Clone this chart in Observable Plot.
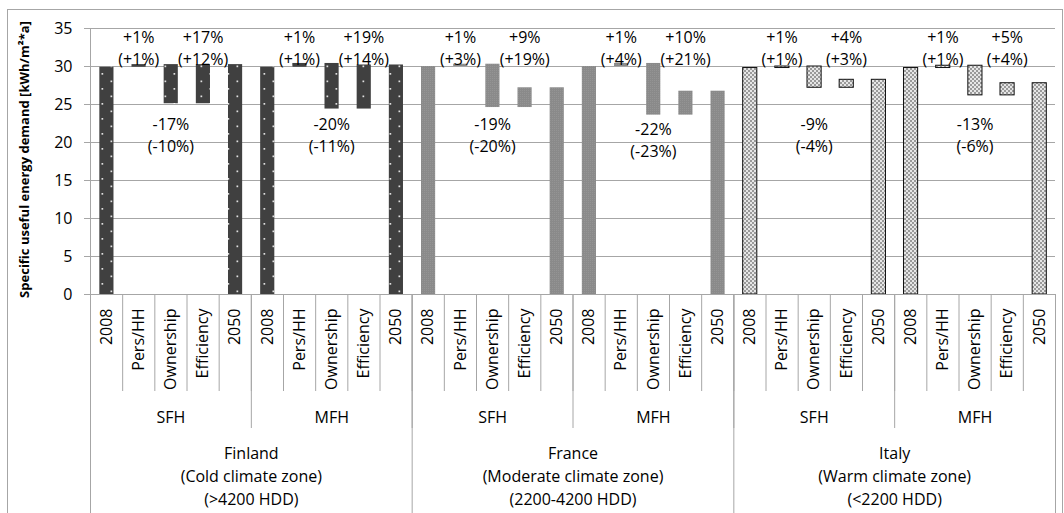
<!DOCTYPE html>
<html>
<head>
<meta charset="utf-8">
<script src="https://cdn.jsdelivr.net/npm/d3@7"></script>
<script src="https://cdn.jsdelivr.net/npm/@observablehq/plot@0.6"></script>
<style>
  body { margin: 0; background: #fff; font-family: "Open Sans", sans-serif; }
  #frame { position: absolute; left: 7px; top: 9px; width: 1054px; height: 520px; border: 1px solid #a6a6a6; box-sizing: content-box; }
  #frame svg { position: absolute; left: 0; }
</style>
</head>
<body>
<div id="frame"></div>
<script>
// ---- data ----
const countries = ["Finland", "France", "Italy"];
const countryLabels = [
  "Finland\n(Cold climate zone)\n(>4200 HDD)",
  "France\n(Moderate climate zone)\n(2200-4200 HDD)",
  "Italy\n(Warm climate zone)\n(<2200 HDD)"
];
const buildings = ["SFH", "MFH"];
const steps = ["2008", "Pers/HH", "Ownership", "Efficiency", "2050"];
const yTicks = [0, 5, 10, 15, 20, 25, 30, 35];

// demand level [kWh/m²a] in 2008, after Pers/HH, after Ownership, after Efficiency (= 2050)
const finlandSFH = [29.9, 30.25, 25.1, 30.25];
const finlandMFH = [29.9, 30.4, 24.4, 30.2];
const franceSFH  = [30.0, 30.3, 24.6, 27.2];
const franceMFH  = [30.0, 30.4, 23.6, 26.75];
const italySFH   = [29.8, 30.0, 27.2, 28.25];
const italyMFH   = [29.8, 30.1, 26.2, 27.8];
const groupLevels = [finlandSFH, finlandMFH, franceSFH, franceMFH, italySFH, italyMFH];

const persLabels = ["+1%\n(+1%)", "+1%\n(+1%)", "+1%\n(+3%)", "+1%\n(+4%)", "+1%\n(+1%)", "+1%\n(+1%)"];
const ownLabels  = ["-17%\n(-10%)", "-20%\n(-11%)", "-19%\n(-20%)", "-22%\n(-23%)", "-9%\n(-4%)", "-13%\n(-6%)"];
const effLabels  = ["+17%\n(+12%)", "+19%\n(+14%)", "+9%\n(+19%)", "+10%\n(+21%)", "+4%\n(+3%)", "+5%\n(+4%)"];

const yTitle = "Specific useful energy demand [kWh/m²*a]";

// ---- derived tables ----
const bars = [];
const labels = [];
groupLevels.forEach((v, g) => {
  const country = countries[Math.floor(g / buildings.length)];
  const building = buildings[g % buildings.length];
  const spans = [[0, v[0]], [v[0], v[1]], [v[1], v[2]], [v[2], v[3]], [0, v[3]]];
  steps.forEach((s, k) => {
    const i = g * steps.length + k;
    bars.push({i, country, building, step: s, y1: spans[k][0], y2: spans[k][1]});
  });
  labels.push({i: g * steps.length + 1, text: persLabels[g], kind: "up"});
  labels.push({i: g * steps.length + 3, text: effLabels[g], kind: "up"});
  labels.push({i: g * steps.length + 2, text: ownLabels[g], kind: "down", bottom: v[2]});
});
const nCat = bars.length;
const nPerCountry = buildings.length * steps.length;
const catLabels = bars.map(b => ({i: b.i, text: b.step}));
const bldLabels = groupLevels.map((v, g) => ({g, text: buildings[g % buildings.length]}));
const ctyLabels = countries.map((c, k) => ({k, text: countryLabels[k]}));
const boundaries = d3.range(nCat + 1);

// layout of the category-axis rows (pixels below the x axis line)
const ROW_CAT = 97, ROW_BLD = 134, ROW_CTY = 240;

const GRID = "#a6a6a6";
const W = 1054;
const common = {
  width: W,
  marginLeft: 82,
  marginRight: 7,
  style: {background: "transparent", overflow: "visible", fontFamily: "'Open Sans', sans-serif", fontSize: "16px", color: "#000"}
};

// ---- main chart ----
const chart = Plot.plot({
  ...common,
  height: 284,
  marginTop: 18,
  marginBottom: 0,
  x: {domain: [0, nCat], axis: null},
  y: {domain: [0, 35], ticks: yTicks.length - 1, tickSize: 6, tickPadding: 12, label: null, tickFormat: d => String(d)},
  marks: [
    Plot.ruleY(yTicks.filter(t => t > 0), {stroke: GRID, strokeWidth: 1}),
    Plot.ruleX([0], {stroke: GRID}),
    Plot.rectY(bars.filter(b => b.country === "Finland"), {
      x1: d => d.i + 0.29, x2: d => d.i + 0.73, y1: "y1", y2: "y2", fill: "url(#patFI)"
    }),
    Plot.rectY(bars.filter(b => b.country === "France"), {
      x1: d => d.i + 0.29, x2: d => d.i + 0.73, y1: "y1", y2: "y2", fill: "url(#patFR)"
    }),
    Plot.rectY(bars.filter(b => b.country === "Italy"), {
      x1: d => d.i + 0.29, x2: d => d.i + 0.73, y1: "y1", y2: "y2", fill: "url(#patIT)", stroke: "#111", strokeWidth: 1
    }),
    Plot.ruleY([0], {stroke: GRID}),
    Plot.text(labels.filter(d => d.kind === "up"), {
      x: d => d.i + 0.5, y: 32.55, text: "text", lineAnchor: "middle", lineHeight: 1.36, fill: "#000"
    }),
    Plot.text(labels.filter(d => d.kind === "down"), {
      x: d => d.i + 0.5, y: d => Math.min(d.bottom - 3.16, 21.1), text: "text", lineAnchor: "middle", lineHeight: 1.36, fill: "#000"
    }),
    Plot.text([yTitle], {
      frameAnchor: "left", textAnchor: "middle", lineAnchor: "middle", rotate: -90, dx: -66, dy: -2, fontWeight: "bold", fontSize: 13, fill: "#000"
    })
  ]
});

// patterns
const defs = d3.select(chart).insert("defs", ":first-child");
const pFI = defs.append("pattern").attr("id", "patFI").attr("patternUnits", "userSpaceOnUse").attr("width", 18).attr("height", 15);
pFI.append("rect").attr("width", 18).attr("height", 15).attr("fill", "#404040");
pFI.append("rect").attr("x", 3.5).attr("y", 3).attr("width", 1.7).attr("height", 1.7).attr("fill", "#e0e0e0");
pFI.append("rect").attr("x", 12.5).attr("y", 10.5).attr("width", 1.7).attr("height", 1.7).attr("fill", "#e0e0e0");
const pFR = defs.append("pattern").attr("id", "patFR").attr("patternUnits", "userSpaceOnUse").attr("width", 2).attr("height", 2);
pFR.append("rect").attr("width", 2).attr("height", 2).attr("fill", "#8a8a8a");
pFR.append("rect").attr("width", 1).attr("height", 1).attr("fill", "#949494");
const pIT = defs.append("pattern").attr("id", "patIT").attr("patternUnits", "userSpaceOnUse").attr("width", 4).attr("height", 4);
pIT.append("rect").attr("width", 4).attr("height", 4).attr("fill", "#e6e6e6");
pIT.append("rect").attr("width", 2).attr("height", 2).attr("fill", "#9a9a9a");
pIT.append("rect").attr("x", 2).attr("y", 2).attr("width", 2).attr("height", 2).attr("fill", "#9a9a9a");

// tick colour
d3.select(chart).selectAll('g[aria-label="y-axis tick"]').attr("stroke", GRID);
d3.select(chart).selectAll('g[aria-label="y-axis"] line').attr("stroke", GRID);

chart.style.top = "0px";

// ---- hierarchical category axis ----
const axis = Plot.plot({
  ...common,
  height: ROW_CTY,
  marginTop: 0,
  marginBottom: 0,
  x: {domain: [0, nCat], axis: null},
  y: {type: "identity", axis: null},
  marks: [
    Plot.ruleX(boundaries, {y1: 0, y2: ROW_CAT, stroke: GRID}),
    Plot.ruleX(boundaries.filter(b => b % steps.length === 0), {y1: 0, y2: ROW_BLD, stroke: GRID}),
    Plot.ruleX(boundaries.filter(b => b % nPerCountry === 0), {y1: 0, y2: ROW_CTY, stroke: GRID}),
    Plot.text(catLabels, {
      x: d => d.i + 0.5, y: 0, dy: 14, text: "text", rotate: -90, textAnchor: "end", lineAnchor: "middle", fill: "#000"
    }),
    Plot.text(bldLabels, {
      x: d => d.g * steps.length + steps.length / 2, y: ROW_BLD, dy: -11, text: "text", lineAnchor: "middle", fill: "#000"
    }),
    Plot.text(ctyLabels, {
      x: d => d.k * nPerCountry + nPerCountry / 2, y: ROW_BLD, dy: 46, text: "text", lineAnchor: "middle", lineHeight: 1.45, fill: "#000"
    })
  ]
});
axis.style.top = "284px";

const frame = document.getElementById("frame");
frame.appendChild(chart);
frame.appendChild(axis);
</script>
</body>
</html>
